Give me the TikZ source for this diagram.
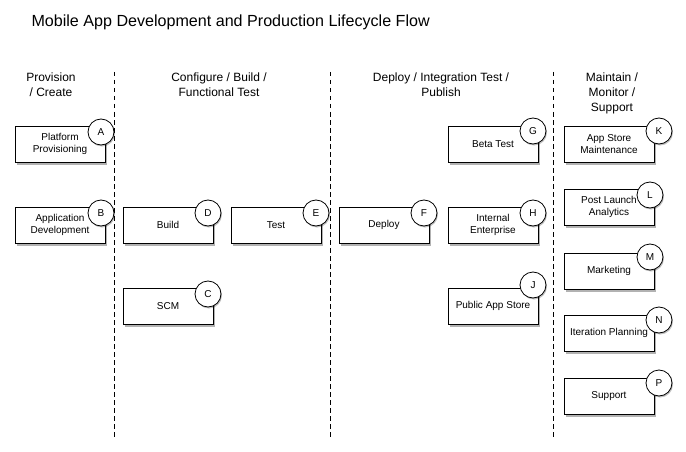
\documentclass[tikz,border=0pt]{standalone}
\usepackage{fontspec}
\setmainfont{Liberation Sans}
\usetikzlibrary{shadows}
\begin{document}
\begin{tikzpicture}[x=1pt,y=-1pt,
  stepbox/.style={draw=black,line width=0.8pt,fill=white,minimum width=90pt,minimum height=36pt,inner sep=1pt,align=center,font=\fontsize{10}{12}\selectfont,
    drop shadow={shadow xshift=1.5pt,shadow yshift=-2.5pt,opacity=0.3,fill=black}},
  tag/.style={circle,draw=black,line width=0.8pt,fill=white,minimum size=26pt,inner sep=0pt,font=\fontsize{10}{12}\selectfont,
    drop shadow={shadow xshift=1pt,shadow yshift=-1.5pt,opacity=0.25,fill=black}},
  header/.style={align=center,font=\fontsize{12}{15}\selectfont,anchor=north},
  divider/.style={line width=0.8pt,dash pattern=on 4.5pt off 3.5pt}]
\useasboundingbox (0,0) rectangle (686,452);
\node[anchor=west,font=\fontsize{16.1}{19}\selectfont] (title) at (28,22) {Mobile App Development and Production Lifecycle Flow};

\node[header] (h1) at (51,69) {Provision\\/ Create};
\node[header] (h2) at (219,69) {Configure / Build /\\Functional Test};
\node[header] (h3) at (441,69) {Deploy / Integration Test /\\Publish};
\node[header] (h4) at (612,69) {Maintain /\\Monitor /\\Support};

\coordinate (d1t) at (114,72); \coordinate (d1b) at (114,440);
\coordinate (d2t) at (330,72); \coordinate (d2b) at (330,440);
\coordinate (d3t) at (553,72); \coordinate (d3b) at (553,440);
\draw[divider] (d1t) -- (d1b);
\draw[divider] (d2t) -- (d2b);
\draw[divider] (d3t) -- (d3b);

\node[stepbox] (pA) at (60,144) {Platform\\Provisioning};
\node[tag] (A) at (101,132) {A};
\node[stepbox] (pB) at (60,225) {Application\\Development};
\node[tag] (B) at (101,213) {B};

\node[stepbox] (pD) at (168,225) {Build};
\node[tag] (D) at (208,213) {D};
\node[stepbox] (pE) at (276,225) {Test};
\node[tag] (E) at (316,213) {E};
\node[stepbox] (pC) at (168,306) {SCM};
\node[tag] (C) at (208,294) {C};

\node[stepbox] (pF) at (384,225) {Deploy};
\node[tag] (F) at (424,213) {F};
\node[stepbox] (pG) at (493,144) {Beta Test};
\node[tag] (G) at (533,131) {G};
\node[stepbox] (pH) at (493,225) {Internal\\Enterprise};
\node[tag] (H) at (533,213) {H};
\node[stepbox] (pJ) at (493,306) {Public App Store};
\node[tag] (J) at (533,285) {J};

\node[stepbox] (pK) at (609,144.5) {App Store\\Maintenance};
\node[tag] (K) at (659,131) {K};
\node[stepbox] (pL) at (609,207) {Post Launch\\Analytics};
\node[tag] (L) at (650,195) {L};
\node[stepbox] (pM) at (609,271) {Marketing};
\node[tag] (M) at (650,257) {M};
\node[stepbox] (pN) at (609,333) {Iteration Planning};
\node[tag] (N) at (659,320) {N};
\node[stepbox] (pP) at (609,396) {Support};
\node[tag] (P) at (659,383) {P};
\end{tikzpicture}
\end{document}
